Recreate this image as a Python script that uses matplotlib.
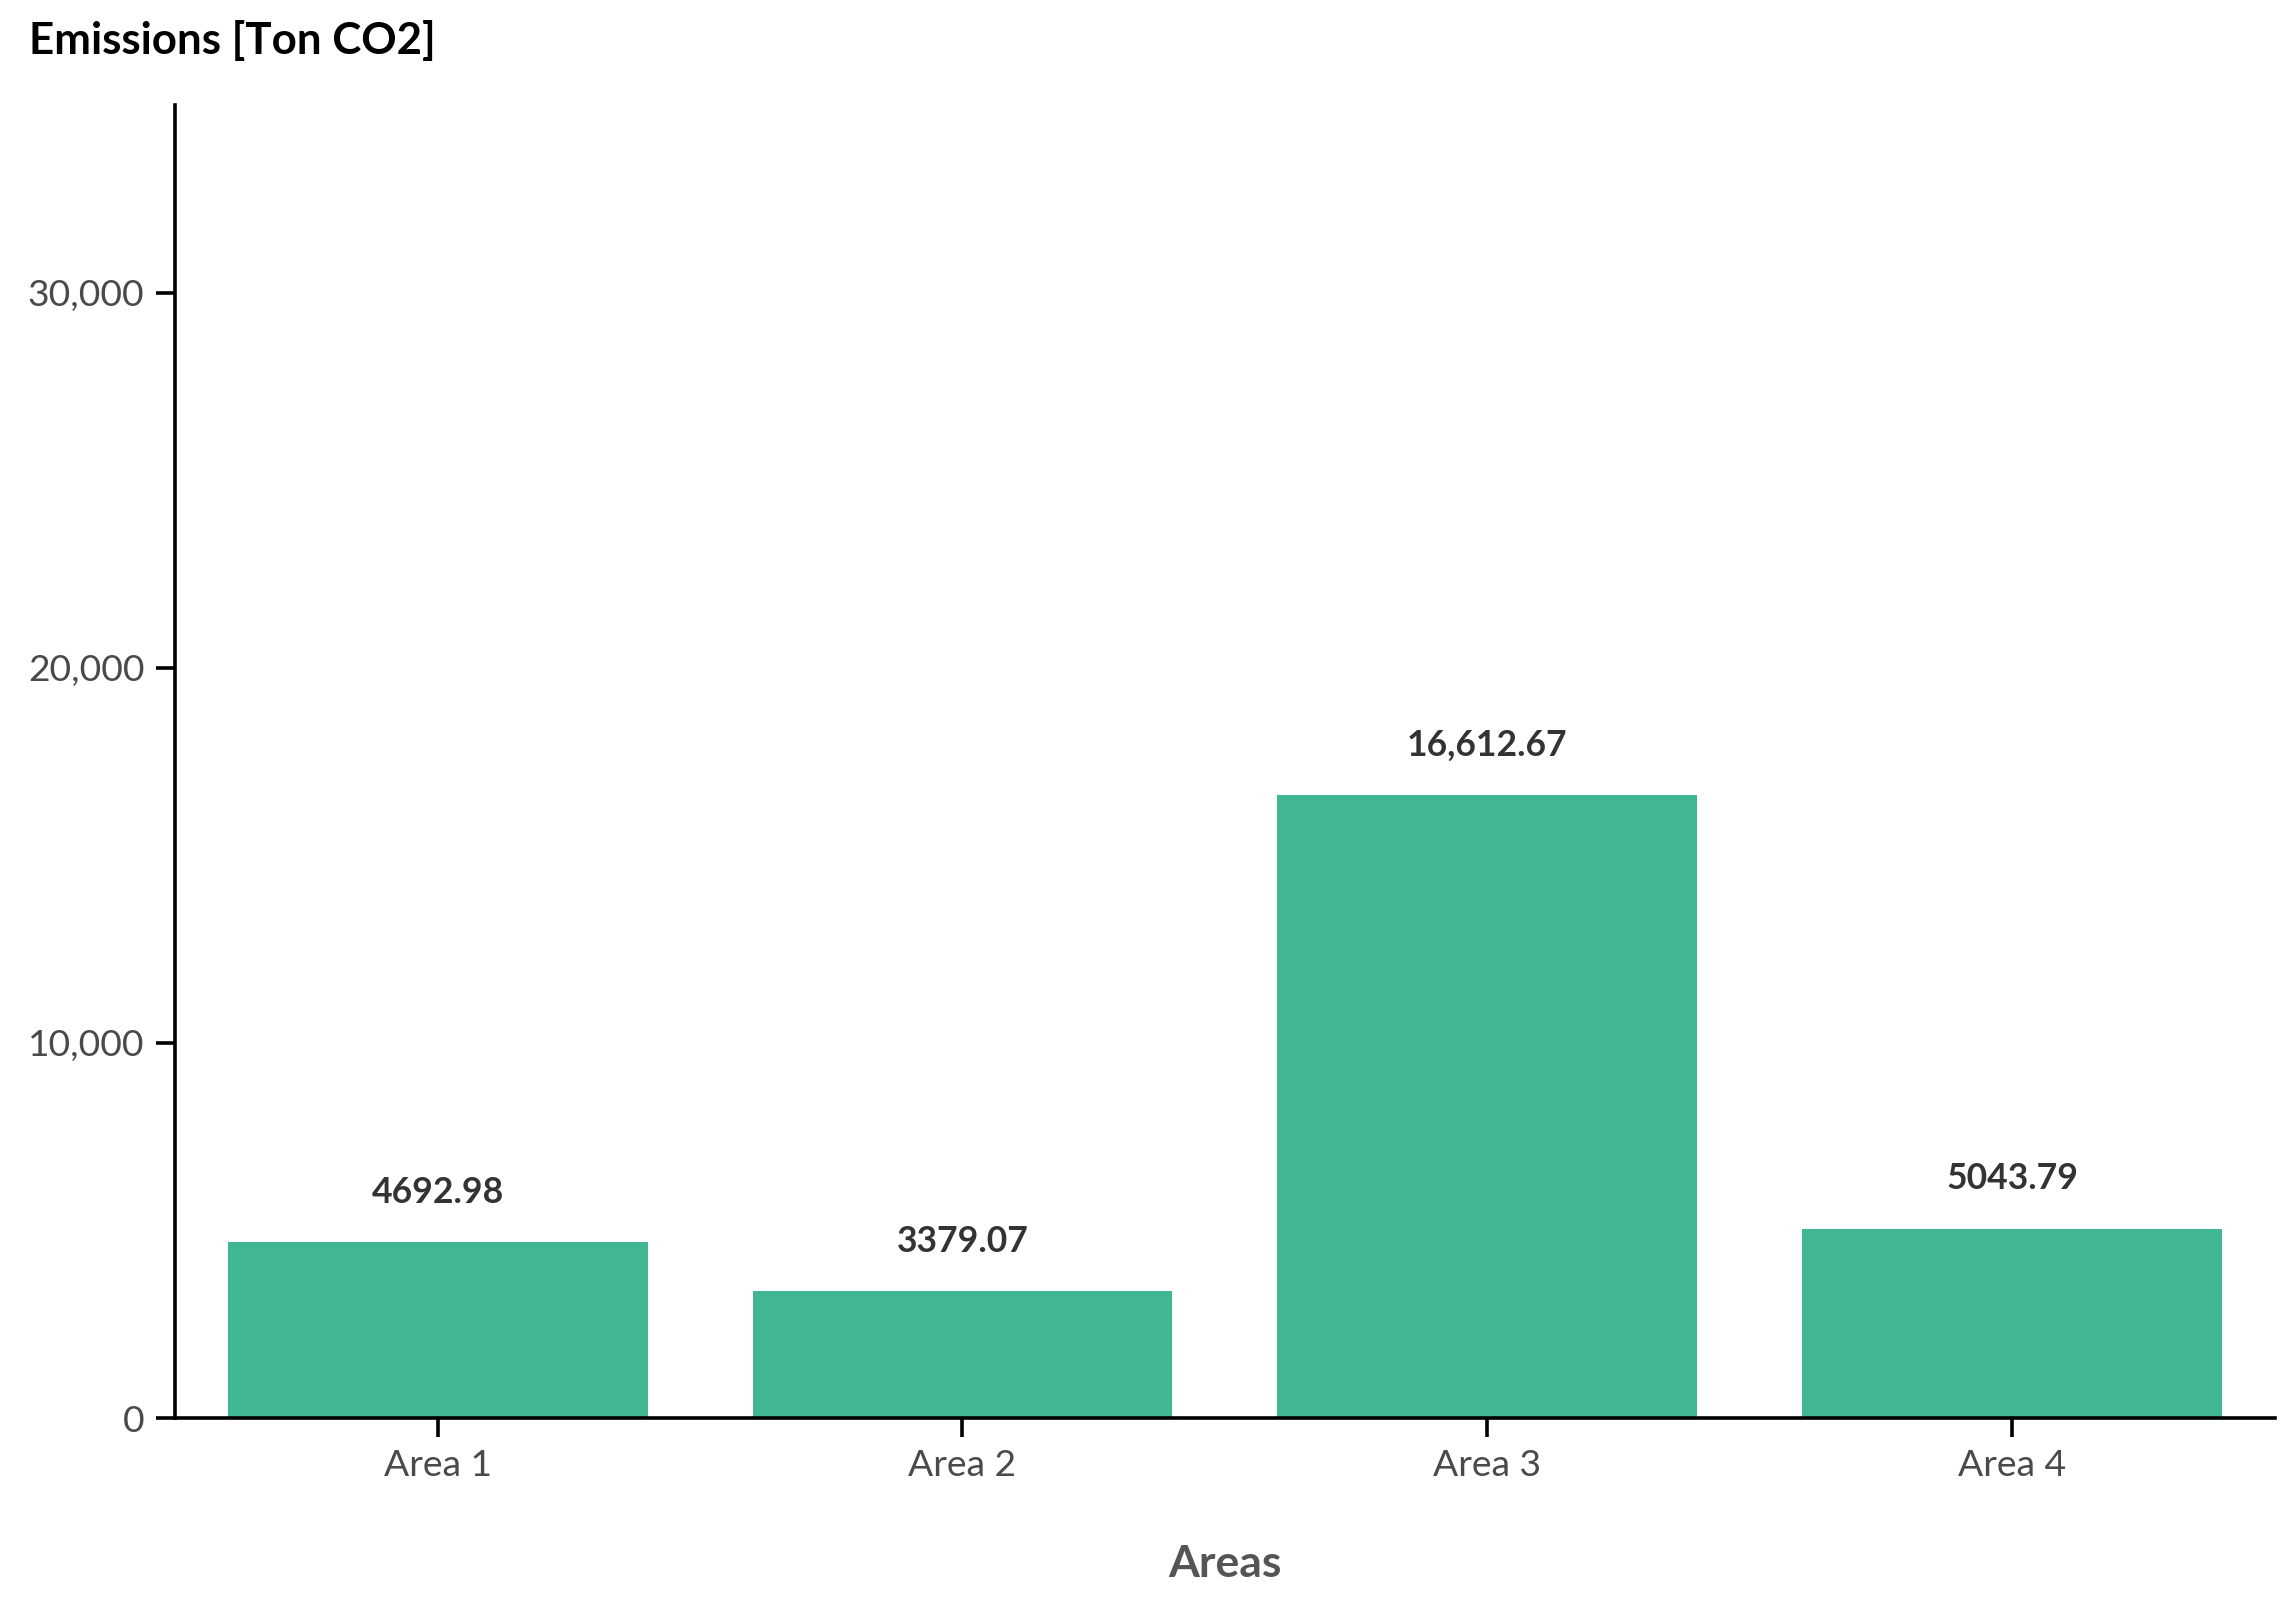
import numpy as np
from matplotlib import pyplot as plt
from matplotlib.ticker import FuncFormatter

plt.rcParams['font.family'] = ['Lato', 'DejaVu Sans']

areas = ['Area 1', 'Area 2', 'Area 3', 'Area 4']
emissions = [4692.98, 3379.07, 16612.67, 5043.79]
bar_labels = ['4692.98', '3379.07', '16,612.67', '5043.79']

fig = plt.figure(figsize=(11.46, 8.005), dpi=200)
ax = fig.add_axes([0.0764, 0.1143, 0.9161, 0.8201])

x = np.arange(len(areas))
ax.bar(x, emissions, width=0.8, color='#40b692', edgecolor='none', zorder=2)

for xi, v, lab in zip(x, emissions, bar_labels):
    ax.annotate(lab, (xi, v), xytext=(0, 12), textcoords='offset points',
                ha='center', va='bottom', fontsize=12.8, fontweight='bold', color='#333333')

ax.set_xlim(-0.5, 3.5)
ax.set_ylim(0, 35000)
ax.set_xticks(x)
ax.set_xticklabels(areas)
ax.set_yticks([0, 10000, 20000, 30000])
ax.yaxis.set_major_formatter(FuncFormatter(lambda v, p: f'{int(v):,}'))

for s in ['top', 'right']:
    ax.spines[s].set_visible(False)
for s in ['left', 'bottom']:
    ax.spines[s].set_linewidth(1.3)
    ax.spines[s].set_color('black')

ax.tick_params(axis='both', length=7, width=1.3, color='black', labelsize=13.4,
               labelcolor='#4a4a4a', pad=4)

ax.set_xlabel('Areas', fontsize=16, fontweight='bold', color='#555555', labelpad=22.5)
fig.text(0.0127, 0.975, 'Emissions [Ton CO2]', fontsize=15.8, fontweight='bold',
         color='black', ha='left', va='center')

fig.savefig('out.png', dpi=200, facecolor='white')
